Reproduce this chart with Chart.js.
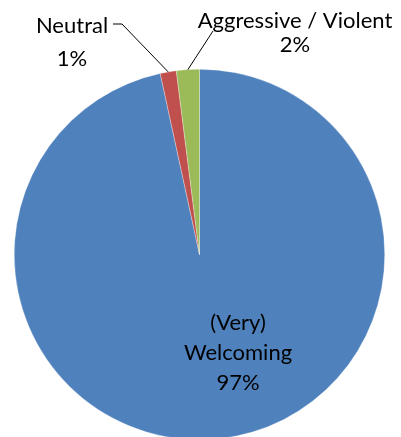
<!DOCTYPE html>
<html>
<head>
<meta charset="utf-8">
<script src="https://cdn.jsdelivr.net/npm/chart.js@4.4.1/dist/chart.umd.min.js"></script>
<style>
  html, body { margin:0; padding:0; background:#fff; overflow:hidden; }
  #wrap { width:401px; height:441px; }
</style>
</head>
<body>
<div id="wrap"><canvas id="pie" width="401" height="441"></canvas></div>
<script>
// DATA
let categories = [["(Very)", "Welcoming"], ["Neutral"], ["Aggressive / Violent"]];
let values = [96.6, 1.4, 2.0];
let colors = ["#4F81BD", "#C0504D", "#9BBB59"];

let FONT = "22px Lato";

// label placement: text centre x, first baseline, line gap; leader = true for outside labels
let labelPos = [
  { x: 238, y: 330, gap: 30, inside: true },
  { x: 72, y: 33, gap: 33, lineFrom: [113, 24], knee: [122, 24] },
  { x: 295, y: 28, gap: 24, lineFrom: [213, 31] }
];

// LABELS + LEADER LINES
const labelPlugin = {
  id: "pieLabels",
  afterDraw(chart){
    let ctx = chart.ctx;
    let arcs = chart.getDatasetMeta(0).data;
    ctx.save();
    ctx.font = FONT;
    ctx.fillStyle = "#000";
    ctx.textAlign = "center";
    ctx.textBaseline = "alphabetic";

    arcs.forEach((arc, i) => {
      let p = labelPos[i];
      let lines = categories[i].concat([Math.round(values[i]) + "%"]);
      lines.forEach((t, k) => {
        ctx.fillText(t, p.x, p.y + k * p.gap);
      });

      if(p.lineFrom){
        let mid = (arc.startAngle + arc.endAngle) / 2;
        let ex = arc.x + arc.outerRadius * Math.cos(mid);
        let ey = arc.y + arc.outerRadius * Math.sin(mid);
        ctx.beginPath();
        ctx.strokeStyle = "#000";
        ctx.lineWidth = 1;
        ctx.moveTo(p.lineFrom[0], p.lineFrom[1]);
        if(p.knee) ctx.lineTo(p.knee[0], p.knee[1]);
        ctx.lineTo(ex, ey);
        ctx.stroke();
      }
    });
    ctx.restore();
  }
};

new Chart(document.getElementById("pie"), {
  type: "pie",
  data: {
    labels: categories.map(c => c.join(" ")),
    datasets: [{
      data: values,
      backgroundColor: colors,
      borderColor: "rgba(255,255,255,0.6)",
      borderWidth: 0.5
    }]
  },
  options: {
    responsive: false,
    animation: false,
    layout: { padding: { top: 69, left: 14, right: 16, bottom: 1 } },
    plugins: { legend: { display: false }, tooltip: { enabled: false } }
  },
  plugins: [labelPlugin]
});
</script>
</body>
</html>
